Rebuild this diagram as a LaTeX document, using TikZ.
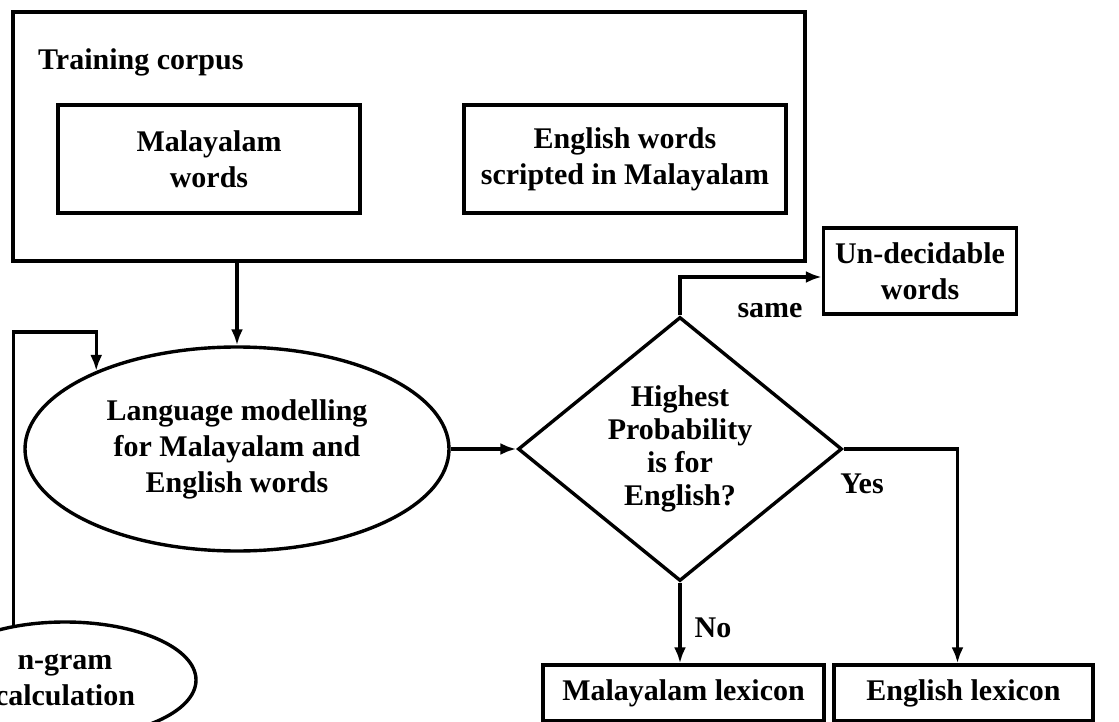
\documentclass[tikz,border=0pt]{standalone}
\usepackage{fontspec}
\setmainfont{Liberation Serif}
\usetikzlibrary{shapes.geometric,arrows.meta}
\begin{document}
\begin{tikzpicture}[x=1pt,y=-1pt,
  every node/.style={font=\bfseries\fontsize{30}{36}\selectfont, align=center, inner sep=0pt},
  box/.style={draw, line width=3.4pt, rectangle},
  oval/.style={draw, line width=3.4pt, ellipse},
  decision/.style={draw, line width=3.4pt, diamond},
  arr/.style={line width=3.4pt, -{Latex[length=16pt,width=12pt]}},
]
\useasboundingbox (0,0) rectangle (1119,722);
\clip (0,0) rectangle (1119,722);

% training corpus and its two word lists
\node[box, minimum width=792pt, minimum height=249pt] (corpus) at (409,136.5) {};
\node[anchor=west] (corpustitle) at (38,62) {Training corpus};
\node[box, minimum width=302pt, minimum height=108pt] (malwords) at (209,159) {Malayalam\\words};
\node[box, minimum width=322pt, minimum height=108pt] (engwords) at (625,159) {English words\\scripted in Malayalam};

% modelling
\node[oval, minimum width=424pt, minimum height=204pt] (lm) at (237,449) {Language modelling\\for Malayalam and\\English words};
\node[oval, minimum width=262pt, minimum height=116pt] (ngram) at (65,680) {n-gram\\calculation};

% decision and outcomes
\node[decision, minimum width=324pt, minimum height=264pt, aspect=1.23,
      font=\bfseries\fontsize{30}{33}\selectfont] (dec) at (680,449) {Highest\\Probability\\is for\\English?};
\node[box, minimum width=193pt, minimum height=86pt] (undec) at (920,271) {Un-decidable\\words};
\node[box, minimum width=281pt, minimum height=56pt] (mallex) at (683.5,693) {Malayalam lexicon};
\node[box, minimum width=259pt, minimum height=56pt] (englex) at (963.5,693) {English lexicon};

% edge labels
\node (lsame) at (770,311) {same};
\node (lyes) at (862,484) {Yes};
\node (lno) at (713,628) {No};

% connectors
\coordinate (looptop) at (0,332);
\draw[arr] (lm.north |- corpus.south) -- (lm.north);
\draw[arr] (ngram.133) |- (looptop -| lm.151) -- (lm.151);
\draw[arr] (lm.east) -- (dec.west);
\draw[arr] (dec.north) |- ([yshift=-6pt]undec.west);
\draw[arr] (dec.east) -| ([xshift=-6pt]englex.north);
\draw[arr] (dec.south) -- (dec.south |- mallex.north);
\end{tikzpicture}
\end{document}
